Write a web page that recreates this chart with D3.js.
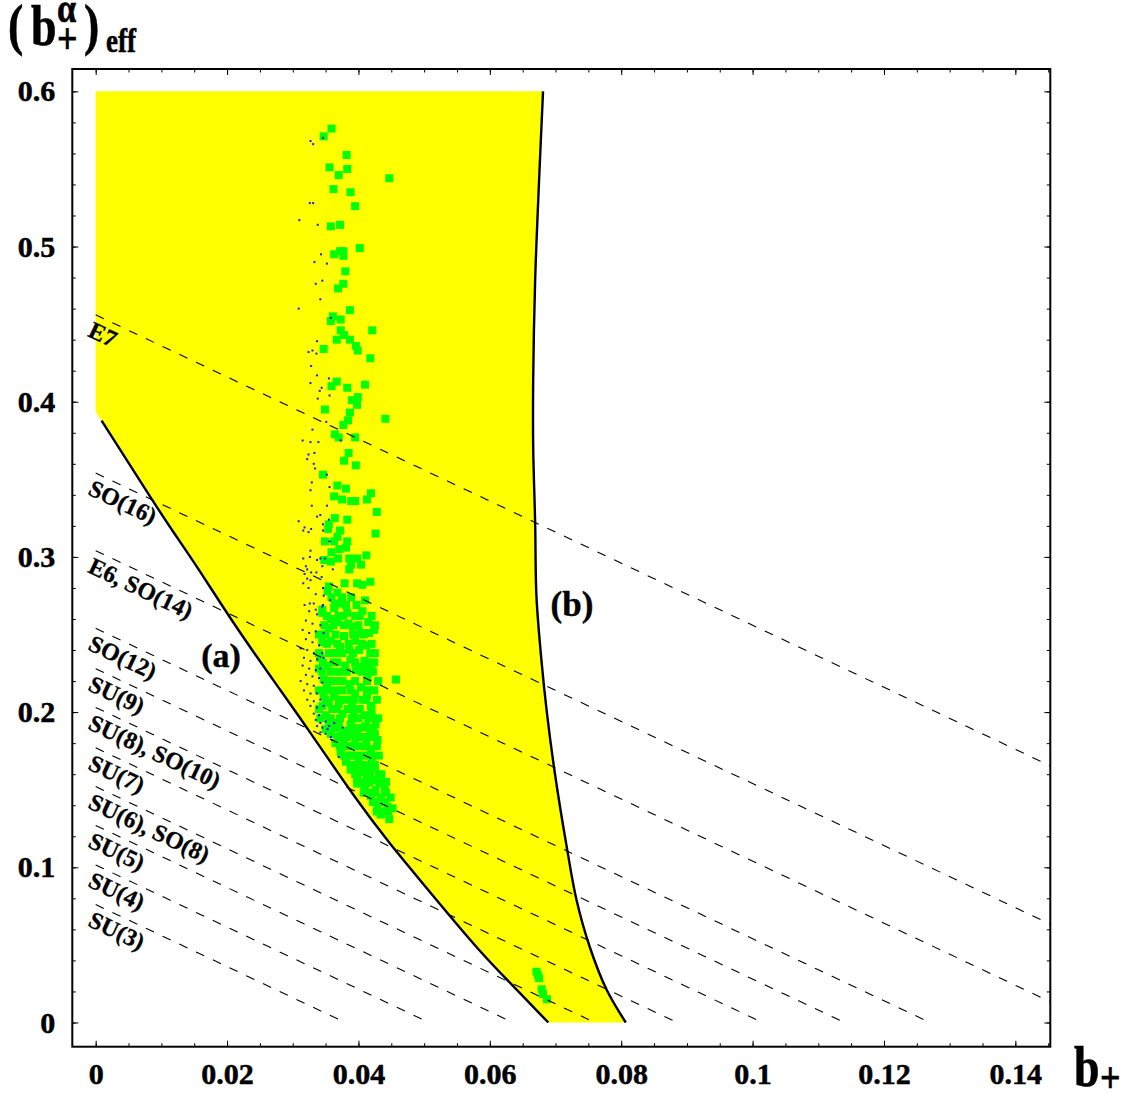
<!DOCTYPE html>
<html lang="en">
<head>
<meta charset="UTF-8">
<title>effective b+</title>
<script src="https://d3js.org/d3.v7.min.js"></script>
<style>
  body { margin: 0; background: #fff; }
  text { font-family: "Liberation Serif", "Times New Roman", serif; font-weight: bold; }
</style>
</head>
<body>
<script>
var width = 1132, height = 1093;

// ticks
var xTicks = [0, 0.02, 0.04, 0.06, 0.08, 0.1, 0.12, 0.14];
var xLabels = ["0", "0.02", "0.04", "0.06", "0.08", "0.1", "0.12", "0.14"];
var yTicks = [0, 0.1, 0.2, 0.3, 0.4, 0.5, 0.6];
var yLabels = ["0", "0.1", "0.2", "0.3", "0.4", "0.5", "0.6"];

// group lines: y = c - 2 x
var groupNames = ["SU(3)", "SU(4)", "SU(5)", "SU(6), SO(8)", "SU(7)", "SU(8), SO(10)",
                  "SU(9)", "SO(12)", "E6, SO(14)", "SO(16)", "E7"];
var groupIntercepts = [0.076, 0.1015, 0.127, 0.152, 0.177, 0.203, 0.228, 0.254, 0.304, 0.354, 0.456];
var groupSlope = -2;

// boundary (a), top to bottom
var curveA = [[0.0009, 0.3878], [0.0089, 0.3347], [0.0119, 0.3154], [0.0151, 0.2961],
              [0.0211, 0.2561], [0.0281, 0.2142], [0.0321, 0.1904], [0.0399, 0.1421],
              [0.0443, 0.1176], [0.0519, 0.0789], [0.0585, 0.0454], [0.0637, 0.0229],
              [0.0689, 0]];
// boundary (b), top to bottom
var curveB = [[0.0681, 0.6], [0.0675, 0.5429], [0.0669, 0.4784], [0.0666, 0.4140],
              [0.0666, 0.3710], [0.0669, 0.3216], [0.0671, 0.2744], [0.0679, 0.2314],
              [0.0687, 0.1992], [0.0699, 0.1606], [0.0717, 0.1133], [0.0732, 0.0789],
              [0.0752, 0.0488], [0.0778, 0.0209], [0.0807, 0]];
var regionTop = 0.6;
var regionCorner = 0.3936;

var greenPoints = [
  [0.0359,0.576],[0.0347,0.571],[0.0382,0.559],[0.0356,0.551],[0.0383,0.550],[0.0370,0.546],
  [0.0447,0.544],[0.0362,0.537],[0.0388,0.535],[0.0395,0.526],[0.0358,0.513],[0.0372,0.514],
  [0.0402,0.499],[0.0363,0.495],[0.0372,0.497],[0.0377,0.497],[0.0377,0.494],[0.0380,0.484],
  [0.0377,0.476],[0.0369,0.473],[0.0387,0.459],[0.0361,0.455],[0.0358,0.452],[0.0373,0.453],
  [0.0373,0.446],[0.0421,0.446],[0.0378,0.443],[0.0367,0.440],[0.0387,0.440],[0.0396,0.436],
  [0.0399,0.433],[0.0347,0.434],[0.0418,0.428],
  [0.0367,0.413],[0.0359,0.410],[0.0383,0.409],[0.0410,0.411],[0.0390,0.401],[0.0399,0.403],
  [0.0398,0.398],[0.0349,0.395],[0.0387,0.393],[0.0384,0.388],[0.0377,0.385],[0.0441,0.389],
  [0.0364,0.379],[0.0370,0.377],[0.0395,0.377],[0.0385,0.367],[0.0378,0.362],[0.0396,0.359],
  [0.0346,0.353],[0.0368,0.346],[0.0381,0.344],[0.0363,0.339],[0.0375,0.337],[0.0389,0.336],
  [0.0395,0.336],[0.0419,0.341],[0.0413,0.337],[0.0428,0.329],[0.0364,0.325],[0.0383,0.324],
  [0.0355,0.321],[0.0354,0.318],[0.0372,0.317],[0.0368,0.313],[0.0363,0.310],[0.0349,0.310],
  [0.0383,0.310],[0.0426,0.315],[0.0359,0.303],[0.0371,0.305],[0.0381,0.306],[0.0348,0.298],
  [0.0358,0.297],[0.0369,0.299],[0.0386,0.299],[0.0398,0.299],[0.0389,0.295],[0.0404,0.295],
  [0.0386,0.292],[0.0412,0.301],[0.0418,0.284],[0.0379,0.283],[0.0398,0.283],[0.0406,0.282],
  [0.0355,0.281],[0.0353,0.278],[0.0368,0.277],[0.0375,0.274],[0.0359,0.274],[0.0389,0.274],
  [0.0397,0.269],[0.0410,0.272],[0.0364,0.269],[0.0381,0.269],[0.0345,0.266],
  [0.0345,0.264],[0.0363,0.267],[0.0370,0.270],[0.0406,0.265],[0.0383,0.264],[0.0355,0.254],
  [0.0368,0.258],[0.0391,0.255],[0.0416,0.251],[0.0424,0.253],[0.0404,0.251],[0.0345,0.245],
  [0.0358,0.246],[0.0378,0.249],[0.0401,0.240],[0.0386,0.240],[0.0363,0.238],[0.0342,0.235],
  [0.0388,0.234],[0.0409,0.233],[0.0424,0.232],[0.0353,0.230],[0.0370,0.226],[0.0396,0.227],
  [0.0414,0.223],[0.0457,0.221],[0.0347,0.221],[0.0365,0.220],[0.0386,0.218],[0.0404,0.216],
  [0.0424,0.214],[0.0347,0.211],[0.0363,0.210],[0.0381,0.208],[0.0406,0.208],[0.0419,0.204],
  [0.0345,0.204],[0.0360,0.202],[0.0376,0.199],[0.0393,0.200],[0.0409,0.198],[0.0342,0.196],
  [0.0355,0.193],[0.0370,0.193],[0.0388,0.192],[0.0411,0.191],[0.0426,0.192],[0.0358,0.186],
  [0.0373,0.185],[0.0391,0.185],[0.0411,0.184],[0.0429,0.182],[0.0365,0.180],[0.0383,0.178],
  [0.0404,0.178],[0.0419,0.176],[0.0373,0.174],[0.0391,0.172],[0.0409,0.172],[0.0431,0.172],
  [0.0381,0.168],[0.0398,0.166],[0.0416,0.165],[0.0388,0.163],[0.0406,0.161],[0.0431,0.159],
  [0.0398,0.157],[0.0416,0.155],[0.0442,0.155],[0.0409,0.151],[0.0426,0.150],[0.0419,0.146],
  [0.0434,0.145],[0.0449,0.145],[0.0429,0.140],[0.0444,0.139],[0.0452,0.138],[0.0439,0.136],
  [0.0434,0.134],[0.0447,0.131],
  [0.0350,0.250],[0.0372,0.242],[0.0395,0.246],[0.0412,0.243],[0.0418,0.238],[0.0340,0.228],
  [0.0362,0.232],[0.0380,0.230],[0.0403,0.229],[0.0420,0.227],[0.0352,0.216],[0.0375,0.214],
  [0.0395,0.212],[0.0413,0.211],[0.0430,0.220],[0.0355,0.206],[0.0370,0.205],[0.0390,0.204],
  [0.0400,0.196],[0.0420,0.197],[0.0350,0.198],[0.0362,0.190],[0.0380,0.188],[0.0398,0.188],
  [0.0418,0.187],[0.0350,0.189],[0.0378,0.180],[0.0395,0.180],[0.0412,0.179],[0.0425,0.186],
  [0.0385,0.172],[0.0400,0.171],[0.0420,0.169],[0.0393,0.163],[0.0413,0.160],[0.0425,0.164],
  [0.0405,0.155],[0.0422,0.156],[0.0415,0.148],[0.0440,0.150],[0.0385,0.257],[0.0370,0.262],
  [0.0395,0.262],[0.0358,0.260],[0.0415,0.258],[0.0410,0.228],
  [0.0352,0.262],[0.0377,0.262],[0.0402,0.262],[0.0420,0.262],
  [0.0348,0.256],[0.0362,0.256],[0.0378,0.256],[0.0400,0.256],[0.0425,0.256],
  [0.0340,0.250],[0.0365,0.250],[0.0392,0.250],[0.0408,0.250],
  [0.0352,0.244],[0.0368,0.244],[0.0385,0.244],[0.0405,0.244],[0.0420,0.244],
  [0.0340,0.238],[0.0355,0.238],[0.0375,0.238],[0.0392,0.238],[0.0425,0.238],
  [0.0346,0.232],[0.0368,0.232],[0.0395,0.232],[0.0415,0.232],
  [0.0345,0.226],[0.0358,0.226],[0.0382,0.226],[0.0405,0.226],[0.0422,0.226],
  [0.0355,0.220],[0.0376,0.220],[0.0395,0.220],[0.0413,0.220],
  [0.0340,0.214],[0.0358,0.214],[0.0368,0.214],[0.0388,0.214],[0.0415,0.214],
  [0.0350,0.208],[0.0372,0.208],[0.0393,0.208],[0.0412,0.208],[0.0428,0.208],
  [0.0340,0.202],[0.0367,0.202],[0.0384,0.202],[0.0402,0.202],[0.0420,0.202],
  [0.0358,0.196],[0.0372,0.196],[0.0390,0.196],[0.0415,0.196],[0.0430,0.196],
  [0.0370,0.190],[0.0392,0.190],[0.0405,0.190],[0.0422,0.190],
  [0.0368,0.184],[0.0382,0.184],[0.0400,0.184],[0.0420,0.184],
  [0.0372,0.178],[0.0392,0.178],[0.0412,0.178],[0.0428,0.178],
  [0.0378,0.172],[0.0398,0.172],[0.0420,0.172],
  [0.0390,0.166],[0.0408,0.166],[0.0425,0.166],
  [0.0395,0.160],[0.0418,0.160],[0.0435,0.160],
  [0.0398,0.154],[0.0412,0.154],[0.0432,0.154],
  [0.0408,0.148],[0.0425,0.148],[0.0442,0.148],
  [0.0422,0.142],[0.0440,0.142],[0.0428,0.136],[0.0445,0.136],
  [0.0671,0.0327],[0.0673,0.0306],[0.0675,0.0285],[0.0679,0.0214],[0.0681,0.0184],[0.0687,0.0150]
];

var bluePoints = [
  [0.0327,0.568],[0.0331,0.566],[0.0346,0.570],[0.0326,0.528],[0.0331,0.528],[0.0310,0.517],
  [0.0338,0.514],[0.0343,0.495],[0.0333,0.490],[0.0352,0.489],[0.0345,0.478],[0.0335,0.476],
  [0.0342,0.466],[0.0309,0.460],[0.0358,0.454],[0.0337,0.439],[0.0330,0.433],[0.0324,0.432],
  [0.0336,0.431],
  [0.0328,0.423],[0.0337,0.417],[0.0355,0.415],[0.0327,0.412],[0.0344,0.409],[0.0341,0.407],
  [0.0338,0.402],[0.0356,0.404],[0.0351,0.387],[0.0330,0.382],[0.0315,0.375],[0.0327,0.374],
  [0.0339,0.374],[0.0373,0.375],[0.0333,0.367],[0.0324,0.366],[0.0322,0.363],[0.0332,0.360],
  [0.0334,0.357],[0.0352,0.353],[0.0329,0.348],[0.0327,0.343],[0.0356,0.345],[0.0329,0.333],
  [0.0352,0.333],[0.0342,0.327],[0.0337,0.326],[0.0309,0.323],[0.0355,0.324],[0.0318,0.319],
  [0.0328,0.318],[0.0316,0.317],[0.0324,0.316],[0.0346,0.321],[0.0346,0.317],[0.0356,0.310],
  [0.0327,0.304],[0.0316,0.299],[0.0337,0.298],[0.0349,0.299],[0.0342,0.299],[0.0326,0.300],
  [0.0320,0.294],[0.0345,0.294],[0.0322,0.292],[0.0328,0.290],[0.0361,0.292],[0.0336,0.290],
  [0.0318,0.289],[0.0344,0.287],[0.0322,0.286],[0.0327,0.285],[0.0316,0.283],[0.0324,0.280],
  [0.0346,0.280],[0.0335,0.276],[0.0347,0.275],[0.0357,0.272],[0.0326,0.270],[0.0318,0.269],
  [0.0332,0.270],[0.0346,0.269],[0.0335,0.266],
  [0.0345,0.268],[0.0325,0.265],[0.0337,0.263],[0.0320,0.259],[0.0330,0.257],[0.0342,0.256],
  [0.0315,0.253],[0.0325,0.251],[0.0335,0.252],[0.0347,0.251],[0.0320,0.247],[0.0330,0.245],
  [0.0340,0.243],[0.0312,0.241],[0.0322,0.240],[0.0332,0.238],[0.0345,0.238],[0.0317,0.235],
  [0.0327,0.233],[0.0337,0.234],[0.0347,0.235],[0.0315,0.230],[0.0325,0.228],[0.0335,0.227],
  [0.0342,0.228],[0.0320,0.224],[0.0330,0.223],[0.0340,0.222],[0.0312,0.220],[0.0322,0.218],
  [0.0332,0.217],[0.0345,0.219],[0.0317,0.214],[0.0327,0.212],[0.0337,0.212],[0.0322,0.208],
  [0.0332,0.207],[0.0342,0.208],[0.0327,0.204],[0.0337,0.203],[0.0347,0.204],[0.0332,0.199],
  [0.0340,0.198],[0.0335,0.195],[0.0342,0.193],[0.0350,0.194],[0.0337,0.191],[0.0345,0.190],
  [0.0353,0.189],[0.0342,0.187],[0.0350,0.186],[0.0358,0.184],[0.0355,0.191],[0.0363,0.193],
  [0.0376,0.190],[0.0370,0.171],[0.0360,0.182]
];

var svg = d3.select("body").append("svg").attr("width", width).attr("height", height);

var frame = { left: 72.3, right: 1050.3, top: 69, bottom: 1046.7 };
var x = d3.scaleLinear().domain([-0.00356, 0.14532]).range([frame.left, frame.right]);
var y = d3.scaleLinear().domain([-0.0156, 0.6144]).range([frame.bottom, frame.top]);

svg.append("clipPath").attr("id", "plotclip")
  .append("rect")
  .attr("x", frame.left).attr("y", frame.top)
  .attr("width", frame.right - frame.left).attr("height", frame.bottom - frame.top);

var plot = svg.append("g").attr("clip-path", "url(#plotclip)");

var lineA = d3.line()
  .x(function(d) { return x(d[0]); })
  .y(function(d) { return y(d[1]); })
  .curve(d3.curveBasis);
var lineB = d3.line()
  .x(function(d) { return x(d[0]); })
  .y(function(d) { return y(d[1]); })
  .curve(d3.curveCatmullRom.alpha(0.5));

// yellow allowed region
var pathB = lineB(curveB);
var pathA = lineA(curveA.slice().reverse());
var fillD = "M" + x(0) + "," + y(regionTop) + pathB.replace(/^M/, "L") +
            pathA.replace(/^M/, "L") + "L" + x(0) + "," + y(regionCorner) + "Z";
plot.append("path").attr("d", fillD).attr("fill", "#ffff00");

// scan points
plot.append("g").selectAll("rect")
  .data(greenPoints)
  .enter()
  .append("rect")
  .attr("x", function(d) { return x(d[0]) - 4; })
  .attr("y", function(d) { return y(d[1]) - 4; })
  .attr("width", 8)
  .attr("height", 8)
  .attr("fill", "#00ff00");

plot.append("g").selectAll("rect")
  .data(bluePoints)
  .enter()
  .append("rect")
  .attr("x", function(d) { return x(d[0]) - 1; })
  .attr("y", function(d) { return y(d[1]) - 1; })
  .attr("width", 2)
  .attr("height", 2)
  .attr("fill", "#1a1aff");

// dashed group lines
var xEnd = x.domain()[1];
plot.append("g").selectAll("line")
  .data(groupIntercepts)
  .enter()
  .append("line")
  .attr("x1", x(0))
  .attr("y1", function(c) { return y(c); })
  .attr("x2", function(c) { return x(Math.min(-c / groupSlope, xEnd)); })
  .attr("y2", function(c) { return y(c + groupSlope * Math.min(-c / groupSlope, xEnd)); })
  .attr("stroke", "#000")
  .attr("stroke-width", 1.1)
  .attr("stroke-dasharray", "9,9.5");

// boundaries
plot.append("path").attr("d", lineA(curveA))
  .attr("fill", "none").attr("stroke", "#000").attr("stroke-width", 2.4);
plot.append("path").attr("d", lineB(curveB))
  .attr("fill", "none").attr("stroke", "#000").attr("stroke-width", 2.4);

// group labels along the lines
var angle = Math.atan2(y(groupSlope * 0.05) - y(0), x(0.05) - x(0)) * 180 / Math.PI;
svg.append("g").selectAll("text")
  .data(groupNames)
  .enter()
  .append("text")
  .attr("transform", function(d, i) {
    return "translate(" + (x(0) - 9) + "," + (y(groupIntercepts[i]) + 21) + ") rotate(" + angle + ")";
  })
  .attr("font-size", 24)
  .attr("stroke", "#000").attr("stroke-width", 0.3)
  .text(function(d) { return d; });

svg.append("text").attr("x", 221).attr("y", 667).attr("text-anchor", "middle")
  .attr("font-size", 34).attr("stroke", "#000").attr("stroke-width", 0.4).text("(a)");
svg.append("text").attr("x", 572).attr("y", 616).attr("text-anchor", "middle")
  .attr("font-size", 35).attr("stroke", "#000").attr("stroke-width", 0.4).text("(b)");

// axes (ticks point inward)
function styleAxis(g) {
  g.select(".domain").remove();
  g.attr("font-size", 30).attr("font-family", "Liberation Serif").attr("font-weight", "bold");
  g.selectAll("line").attr("stroke", "#000");
  g.selectAll("text").attr("stroke", "#000").attr("stroke-width", 0.5);
}
var xMinor = d3.range(0, 0.1451, 0.005);
var yMinor = d3.range(0, 0.6001, 0.02);

svg.append("g").attr("transform", "translate(0," + frame.bottom + ")")
  .call(d3.axisBottom(x).tickValues(xMinor).tickSize(-3.5).tickFormat("")).call(styleAxis);
svg.append("g").attr("transform", "translate(0," + frame.bottom + ")")
  .call(d3.axisBottom(x).tickValues(xTicks).tickSize(-6).tickPadding(16)
    .tickFormat(function(d, i) { return xLabels[i]; })).call(styleAxis);
svg.append("g").attr("transform", "translate(0," + frame.top + ")")
  .call(d3.axisTop(x).tickValues(xMinor).tickSize(-3.5).tickFormat("")).call(styleAxis);
svg.append("g").attr("transform", "translate(0," + frame.top + ")")
  .call(d3.axisTop(x).tickValues(xTicks).tickSize(-6).tickFormat("")).call(styleAxis);

svg.append("g").attr("transform", "translate(" + frame.left + ",0)")
  .call(d3.axisLeft(y).tickValues(yMinor).tickSize(-3.5).tickFormat("")).call(styleAxis);
svg.append("g").attr("transform", "translate(" + frame.left + ",0)")
  .call(d3.axisLeft(y).tickValues(yTicks).tickSize(-6).tickPadding(17)
    .tickFormat(function(d, i) { return yLabels[i]; })).call(styleAxis);
svg.append("g").attr("transform", "translate(" + frame.right + ",0)")
  .call(d3.axisRight(y).tickValues(yMinor).tickSize(-3.5).tickFormat("")).call(styleAxis);
svg.append("g").attr("transform", "translate(" + frame.right + ",0)")
  .call(d3.axisRight(y).tickValues(yTicks).tickSize(-6).tickFormat("")).call(styleAxis);

svg.append("rect")
  .attr("x", frame.left).attr("y", frame.top)
  .attr("width", frame.right - frame.left).attr("height", frame.bottom - frame.top)
  .attr("fill", "none").attr("stroke", "#000").attr("stroke-width", 2);

// axis titles
function addText(str, px, py, size) {
  svg.append("text")
    .attr("transform", "translate(" + px + "," + py + ") scale(0.82,1)")
    .attr("font-size", size)
    .attr("stroke", "#000").attr("stroke-width", 0.6)
    .text(str);
}
addText("(", 8, 44, 56);
addText("b", 31, 45, 56);
addText("\u03b1", 57, 22, 42);
addText("+", 57, 53, 44);
addText(")", 84, 44, 56);
addText("eff", 106, 52, 33);

addText("b", 1074, 1086, 56);
addText("+", 1100, 1092, 44);
</script>
</body>
</html>
